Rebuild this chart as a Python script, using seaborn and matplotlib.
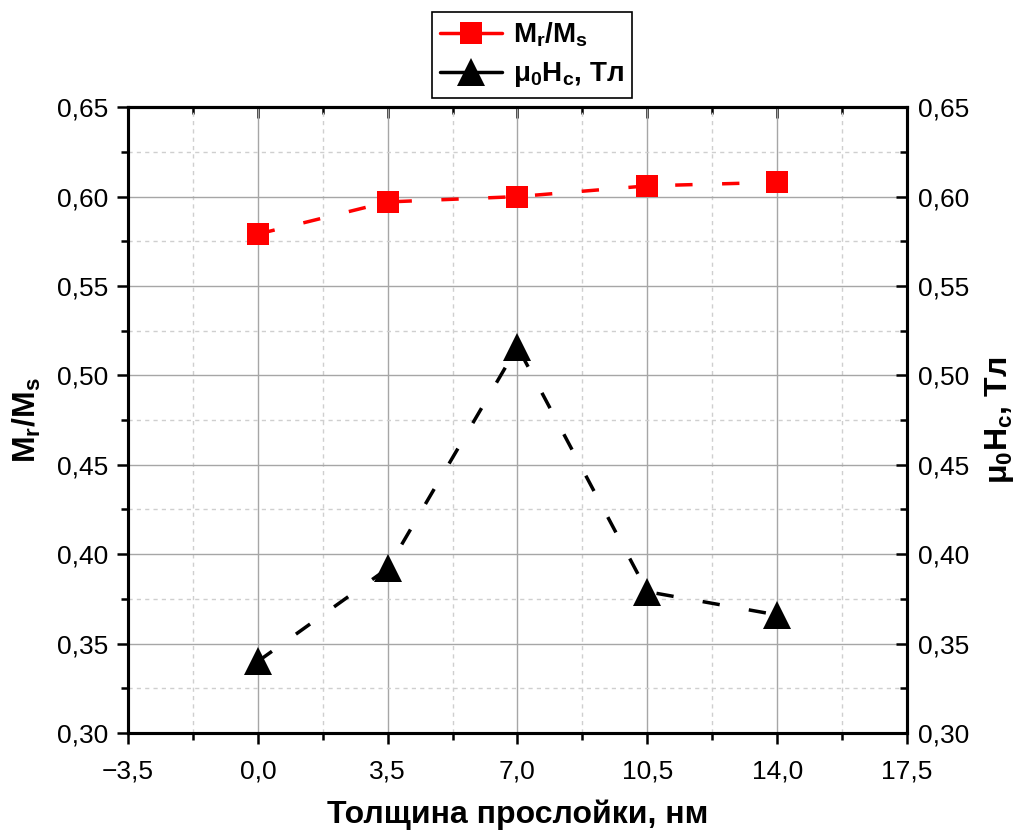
import numpy as np
import pandas as pd
import seaborn as sns
import matplotlib.pyplot as plt
from matplotlib.ticker import MultipleLocator, FuncFormatter
from matplotlib.lines import Line2D

# data
thickness = [0.0, 3.5, 7.0, 10.5, 14.0]
mr_ms = [0.579, 0.597, 0.600, 0.606, 0.608]
mu0_hc = [0.340, 0.392, 0.516, 0.379, 0.366]

x_label = "Толщина прослойки, нм"
left_label = r"$\mathbf{M_r/M_s}$"
right_label = r"μ$_\mathbf{0}$H$_\mathbf{c}$, Тл"

sns.set_style("ticks")
plt.rcParams['font.family'] = ['Liberation Sans', 'DejaVu Sans']
plt.rcParams['mathtext.fontset'] = 'custom'
plt.rcParams['mathtext.rm'] = 'Liberation Sans'
plt.rcParams['mathtext.bf'] = 'Liberation Sans:bold'
plt.rcParams['mathtext.it'] = 'Liberation Sans:italic'
plt.rcParams['text.color'] = 'black'
plt.rcParams['axes.labelcolor'] = 'black'
plt.rcParams['xtick.color'] = 'black'
plt.rcParams['ytick.color'] = 'black'
plt.rcParams['axes.edgecolor'] = 'black'

df = pd.DataFrame({'x': thickness, 'mr': mr_ms, 'hc': mu0_hc})

fig = plt.figure(figsize=(10.19, 8.31), dpi=100)
ax = fig.add_axes([0.1256, 0.118, 0.7645, 0.753])
ax2 = ax.twinx()

dash = (0, (5, 8.5))
sns.lineplot(data=df, x='x', y='mr', ax=ax, color='#ff0000', lw=2.5,
             linestyle=dash, marker='s', markersize=16.5, markeredgewidth=0,
             zorder=5)
sns.lineplot(data=df, x='x', y='hc', ax=ax2, color='black', lw=2.5,
             linestyle=dash, marker='^', markersize=20, markeredgewidth=0,
             zorder=5)

fmt = FuncFormatter(lambda v, p: f"{v:.2f}".replace('.', ','))
xfmt = FuncFormatter(lambda v, p: f"{v:.1f}".replace('.', ',').replace('-', '\u2212'))

for a in (ax, ax2):
    a.set_ylim(0.30, 0.65)
    a.yaxis.set_major_locator(MultipleLocator(0.05))
    a.yaxis.set_minor_locator(MultipleLocator(0.025))
    a.yaxis.set_major_formatter(fmt)
    for s in a.spines.values():
        s.set_linewidth(2.2)
        s.set_visible(True)

ax.set_xlim(-3.5, 17.5)
ax.xaxis.set_major_locator(MultipleLocator(3.5))
ax.xaxis.set_minor_locator(MultipleLocator(1.75))
ax.xaxis.set_major_formatter(xfmt)

ax.tick_params(which='major', direction='out', length=8, width=1.8, labelsize=19)
ax.tick_params(axis='x', which='major', pad=11)
ax.tick_params(axis='y', which='major', pad=6)
ax.tick_params(which='minor', direction='out', length=5, width=1.8)
ax2.tick_params(which='major', direction='in', length=8, width=1.8, labelsize=19, pad=8)
ax2.tick_params(which='minor', direction='in', length=5, width=1.8)

top = ax.secondary_xaxis('top')
top.xaxis.set_major_locator(MultipleLocator(3.5))
top.xaxis.set_minor_locator(MultipleLocator(1.75))
top.tick_params(which='major', direction='in', length=8, width=1.8, labeltop=False)
top.tick_params(which='minor', direction='in', length=5, width=1.8)
top.spines['top'].set_linewidth(2.2)

ax.grid(which='major', color='#a6a6a6', lw=1.0, ls='-')
ax.grid(which='minor', color='#cfcfcf', lw=1.0, ls=(0, (3, 3)))
ax.set_axisbelow(True)

ax.set_xlabel(x_label, fontsize=23, fontweight='bold', labelpad=12)
ax.set_ylabel(left_label, fontsize=23, fontweight='bold', labelpad=10)
ax2.set_ylabel(right_label, fontsize=23, fontweight='bold', labelpad=10)

handles = [
    Line2D([], [], color='#ff0000', lw=2.5, marker='s', markersize=16.5, markeredgewidth=0),
    Line2D([], [], color='black', lw=2.5, marker='^', markersize=20, markeredgewidth=0),
]
labels = [left_label, right_label]
leg = fig.legend(handles, labels, loc='upper center', bbox_to_anchor=(0.522, 0.985),
                 frameon=True, fancybox=False, edgecolor='black', framealpha=1,
                 prop={'size': 20, 'weight': 'bold'}, handlelength=2.2,
                 borderpad=0.3, labelspacing=0.4, handletextpad=0.4,
                 borderaxespad=0)
leg.get_frame().set_linewidth(1.2)

fig.savefig("out.png", dpi=100)
